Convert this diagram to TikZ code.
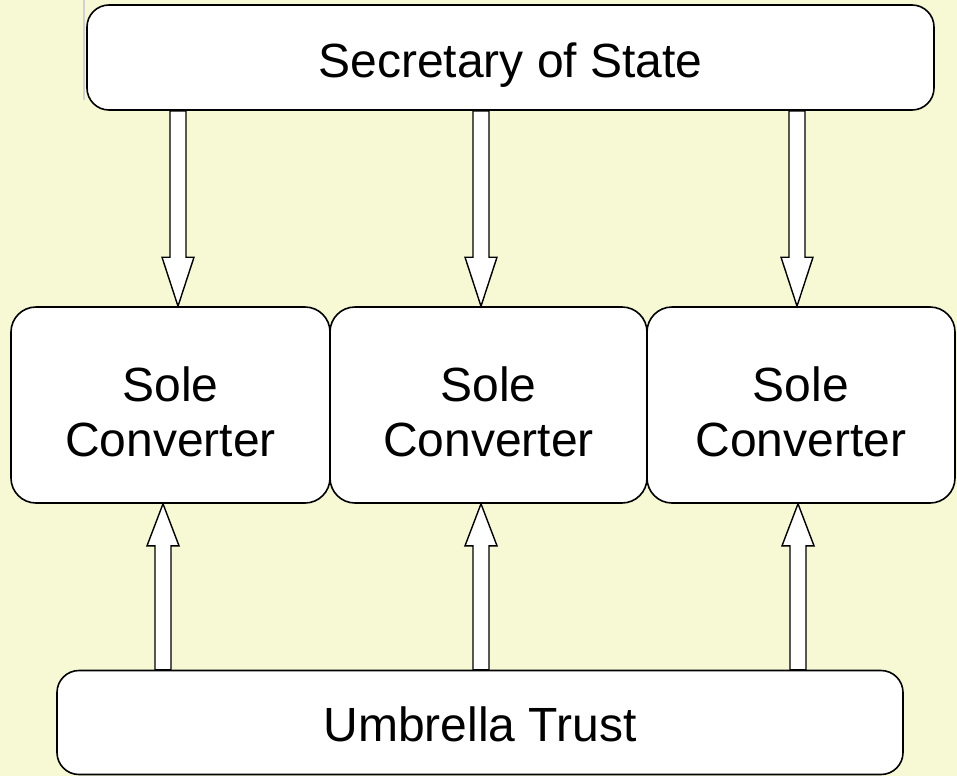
\documentclass[tikz,border=0pt]{standalone}
\usepackage{fontspec}
\setmainfont{Liberation Sans}
\usetikzlibrary{calc}
\definecolor{bgcol}{RGB}{246,249,212}
\tikzset{
  box/.style={draw=black, fill=white, line width=1.6pt, rounded corners=22pt,
    inner sep=0pt},
  boxtext/.style={align=center, inner sep=0pt, font=\fontsize{48}{55}\selectfont},
  barrow/.style={draw=black, fill=white, line width=1.4pt, line join=miter}
}
\newcommand\blockarr[3]{%
  \draw[barrow] let \p1=#1, \p2=#2 in
    (\x2-8pt,\y1) -- (\x2-8pt,{\y2+(#3)}) -- (\x2-16pt,{\y2+(#3)}) -- (\x2,\y2)
    -- (\x2+16pt,{\y2+(#3)}) -- (\x2+8pt,{\y2+(#3)}) -- (\x2+8pt,\y1) -- cycle;}
\begin{document}
\begin{tikzpicture}[x=1pt,y=-1pt]
\fill[bgcol] (0,0) rectangle (957,776);
\useasboundingbox (0,0) rectangle (957,776);
\draw[black!18, line width=1.5pt] (84,0) -- (84,100);
\node[box, minimum width=847pt, minimum height=105pt,
  label={[boxtext, yshift=-8pt]center:Secretary of State}] (sec) at (510.5,57.5) {};
\node[box, minimum width=319pt, minimum height=196pt, rounded corners=25pt,
  label={[boxtext, yshift=-7pt]center:Sole\\Converter}] (b1) at (170.5,405) {};
\node[box, minimum width=317pt, minimum height=196pt, rounded corners=25pt,
  label={[boxtext, yshift=-7pt]center:Sole\\Converter}] (b2) at (488.5,405) {};
\node[box, minimum width=308pt, minimum height=196pt, rounded corners=25pt,
  label={[boxtext, yshift=-7pt]center:Sole\\Converter}] (b3) at (801,405) {};
\node[box, minimum width=846pt, minimum height=104pt,
  label={[boxtext, yshift=-2pt]center:Umbrella Trust}] (ut) at (480,722.5) {};
\blockarr{(sec.south)}{([xshift=7.5pt]b1.north)}{49pt}
\blockarr{(sec.south)}{([xshift=-7.5pt]b2.north)}{49pt}
\blockarr{(sec.south)}{([xshift=-4pt]b3.north)}{49pt}
\blockarr{(ut.north)}{([xshift=-7.5pt]b1.south)}{-42pt}
\blockarr{(ut.north)}{([xshift=-7.5pt]b2.south)}{-42pt}
\blockarr{(ut.north)}{([xshift=-3pt]b3.south)}{-42pt}
\end{tikzpicture}
\end{document}
